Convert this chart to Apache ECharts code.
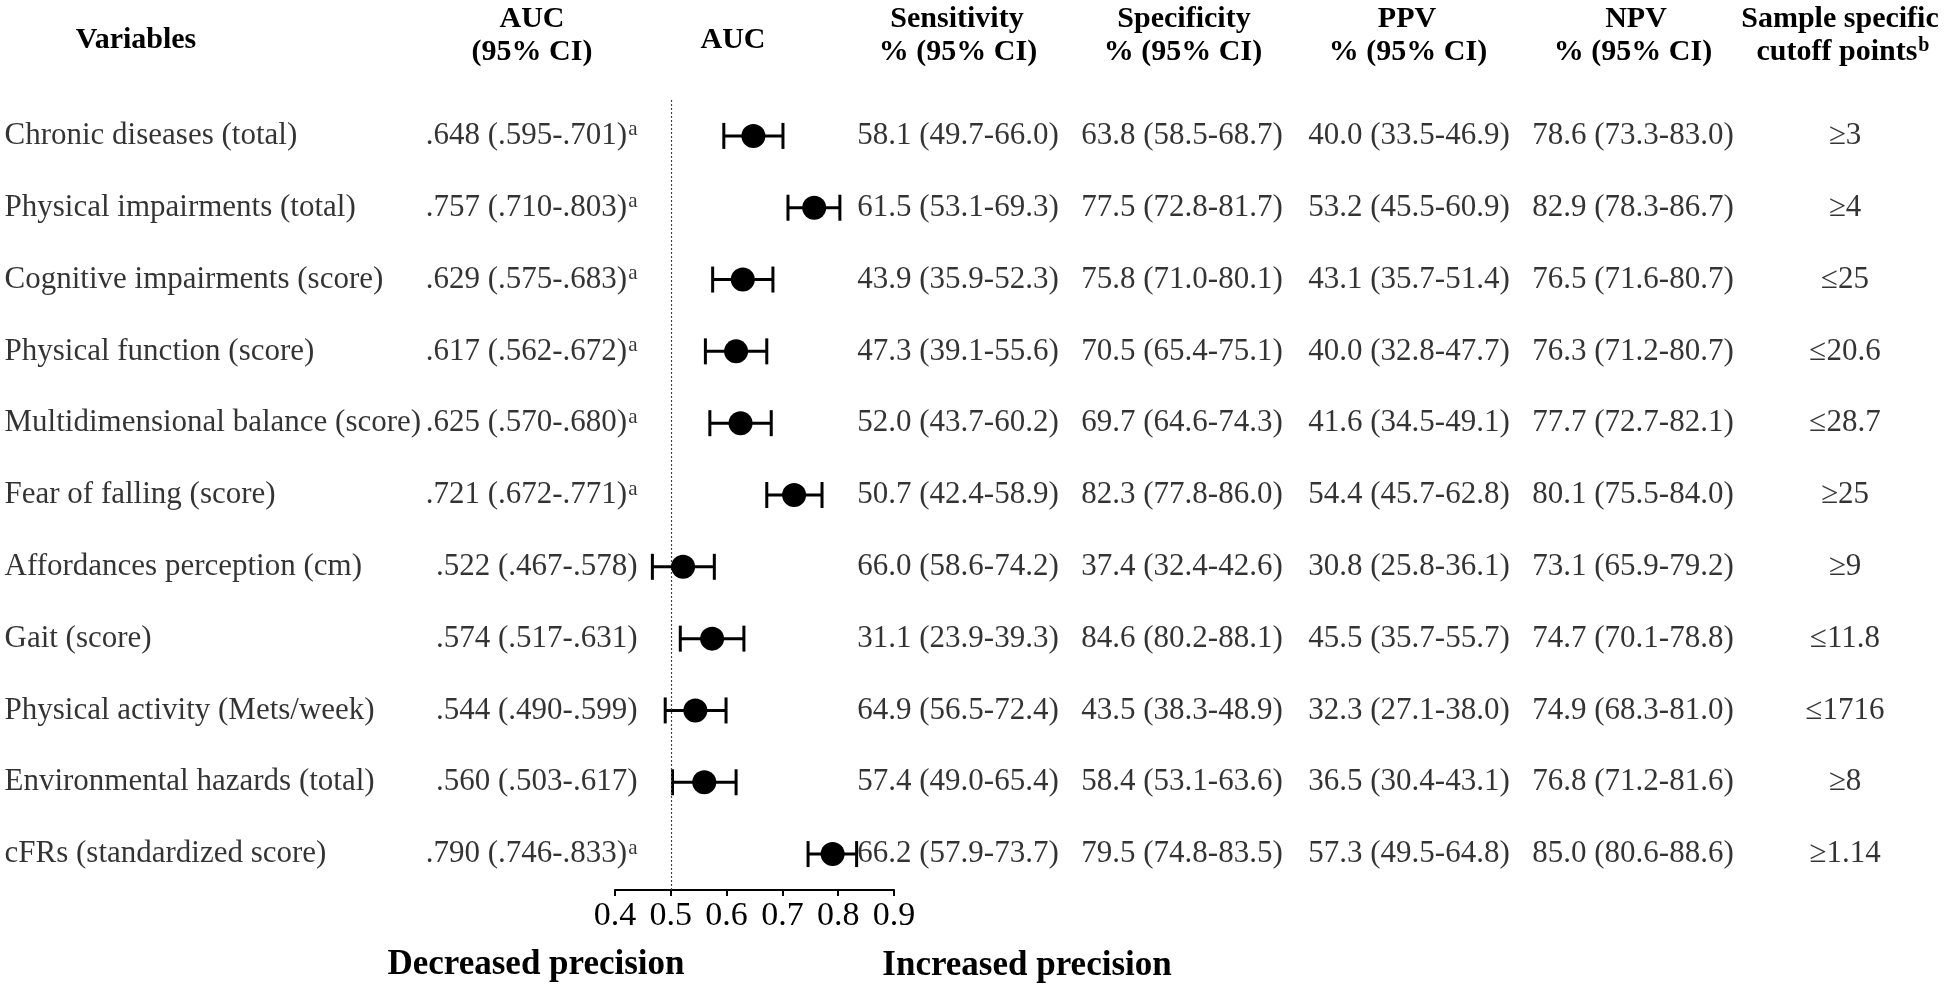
<!DOCTYPE html>
<html>
<head>
<meta charset="utf-8">
<script src="https://cdn.jsdelivr.net/npm/echarts@6/dist/echarts.min.js"></script>
<style>
html,body{margin:0;padding:0;background:#fff;}
#chart{width:1946px;height:987px;}
</style>
</head>
<body>
<div id="chart"></div>
<script>
// ---------- data ----------
const variables = ['Chronic diseases (total)', 'Physical impairments (total)', 'Cognitive impairments (score)', 'Physical function (score)', 'Multidimensional balance (score)', 'Fear of falling (score)', 'Affordances perception (cm)', 'Gait (score)', 'Physical activity (Mets/week)', 'Environmental hazards (total)', 'cFRs (standardized score)'];
const auc = [0.648, 0.757, 0.629, 0.617, 0.625, 0.721, 0.522, 0.574, 0.544, 0.560, 0.790];
const aucLow = [0.595, 0.710, 0.575, 0.562, 0.570, 0.672, 0.467, 0.517, 0.490, 0.503, 0.746];
const aucHigh = [0.701, 0.803, 0.683, 0.672, 0.680, 0.771, 0.578, 0.631, 0.599, 0.617, 0.833];
const aucSig = [true, true, true, true, true, true, false, false, false, false, true];
const sensitivity = ['58.1 (49.7-66.0)', '61.5 (53.1-69.3)', '43.9 (35.9-52.3)', '47.3 (39.1-55.6)', '52.0 (43.7-60.2)', '50.7 (42.4-58.9)', '66.0 (58.6-74.2)', '31.1 (23.9-39.3)', '64.9 (56.5-72.4)', '57.4 (49.0-65.4)', '66.2 (57.9-73.7)'];
const specificity = ['63.8 (58.5-68.7)', '77.5 (72.8-81.7)', '75.8 (71.0-80.1)', '70.5 (65.4-75.1)', '69.7 (64.6-74.3)', '82.3 (77.8-86.0)', '37.4 (32.4-42.6)', '84.6 (80.2-88.1)', '43.5 (38.3-48.9)', '58.4 (53.1-63.6)', '79.5 (74.8-83.5)'];
const ppv = ['40.0 (33.5-46.9)', '53.2 (45.5-60.9)', '43.1 (35.7-51.4)', '40.0 (32.8-47.7)', '41.6 (34.5-49.1)', '54.4 (45.7-62.8)', '30.8 (25.8-36.1)', '45.5 (35.7-55.7)', '32.3 (27.1-38.0)', '36.5 (30.4-43.1)', '57.3 (49.5-64.8)'];
const npv = ['78.6 (73.3-83.0)', '82.9 (78.3-86.7)', '76.5 (71.6-80.7)', '76.3 (71.2-80.7)', '77.7 (72.7-82.1)', '80.1 (75.5-84.0)', '73.1 (65.9-79.2)', '74.7 (70.1-78.8)', '74.9 (68.3-81.0)', '76.8 (71.2-81.6)', '85.0 (80.6-88.6)'];
const cutoff = ['≥3', '≥4', '≤25', '≤20.6', '≤28.7', '≥25', '≥9', '≤11.8', '≤1716', '≥8', '≥1.14'];
const axisTicks = [0.4, 0.5, 0.6, 0.7, 0.8, 0.9];
const referenceAUC = 0.5;

// ---------- layout / style ----------
const FONT = '"Liberation Serif", "Times New Roman", serif';
const BODY = 31;
const HEAD = 30;
const TOP = 100, HEIGHT = 790;

function fmt3(v) { return v.toFixed(3).replace(/^0/, ''); }

const aucText = auc.map((v, i) => fmt3(v) + ' (' + fmt3(aucLow[i]) + '-' + fmt3(aucHigh[i]) + ')' + (aucSig[i] ? '{sup|a}' : ''));

const columns = [
  { left: 4, width: 100, texts: variables, x: 0, pos: 'right' },
  { left: 330, width: 308, texts: aucText, x: 1, pos: 'left' },
  { left: 858, width: 200, texts: sensitivity, x: 0.5, pos: 'inside' },
  { left: 1082, width: 200, texts: specificity, x: 0.5, pos: 'inside' },
  { left: 1309, width: 200, texts: ppv, x: 0.5, pos: 'inside' },
  { left: 1533, width: 200, texts: npv, x: 0.5, pos: 'inside' },
  { left: 1795, width: 100, texts: cutoff, x: 0.5, pos: 'inside' }
];

const grids = [{ left: 615, width: 279, top: TOP, height: HEIGHT }];
const xAxes = [{
  gridIndex: 0, type: 'value', min: 0.4, max: 0.9, interval: 0.1,
  splitLine: { show: false },
  axisLine: { show: true, lineStyle: { color: '#000', width: 2 } },
  axisTick: { show: true, length: 6, lineStyle: { color: '#000', width: 2 } },
  axisLabel: {
    color: '#000', fontSize: 34, fontFamily: FONT, margin: 9,
    formatter: v => axisTicks.some(t => Math.abs(t - v) < 1e-9) ? v.toFixed(1) : ''
  }
}];
const yAxes = [{ gridIndex: 0, type: 'category', data: variables, inverse: true, show: false }];
const series = [];

// error bar whiskers
series.push({
  type: 'custom',
  xAxisIndex: 0, yAxisIndex: 0,
  silent: true,
  data: variables.map((v, i) => [aucLow[i], aucHigh[i], i]),
  encode: { x: [0, 1], y: 2 },
  renderItem: function (params, api) {
    const p1 = api.coord([api.value(0), api.value(2)]);
    const p2 = api.coord([api.value(1), api.value(2)]);
    const h = 13;
    const st = { stroke: '#000', lineWidth: 3 };
    return {
      type: 'group',
      children: [
        { type: 'line', shape: { x1: p1[0], y1: p1[1], x2: p2[0], y2: p2[1] }, style: st },
        { type: 'line', shape: { x1: p1[0], y1: p1[1] - h, x2: p1[0], y2: p1[1] + h }, style: st },
        { type: 'line', shape: { x1: p2[0], y1: p2[1] - h, x2: p2[0], y2: p2[1] + h }, style: st }
      ]
    };
  }
});

// AUC points + reference line
series.push({
  type: 'scatter',
  xAxisIndex: 0, yAxisIndex: 0,
  silent: true,
  symbol: 'circle',
  symbolSize: 24,
  itemStyle: { color: '#000', opacity: 1 },
  data: auc.map((v, i) => [v, i]),
  z: 5,
  markLine: {
    silent: true,
    symbol: ['none', 'none'],
    label: { show: false },
    lineStyle: { color: '#444', type: [2, 2], width: 1.2 },
    data: [{ xAxis: referenceAUC }]
  }
});

// text columns
columns.forEach((c, k) => {
  const gi = k + 1;
  grids.push({ left: c.left, width: c.width, top: TOP, height: HEIGHT });
  xAxes.push({ gridIndex: gi, type: 'value', min: 0, max: 1, show: false });
  yAxes.push({ gridIndex: gi, type: 'category', data: variables, inverse: true, show: false });
  series.push({
    type: 'scatter',
    xAxisIndex: gi, yAxisIndex: gi,
    silent: true,
    symbolSize: 1,
    itemStyle: { color: 'rgba(0,0,0,0)' },
    data: c.texts.map((t, i) => ({ value: [c.x, i], name: t })),
    label: {
      show: true,
      position: c.pos,
      distance: 0,
      color: '#000',
      fontSize: BODY,
      fontFamily: FONT,
      formatter: p => p.name,
      rich: {
        sup: { fontSize: 21, fontFamily: FONT, color: '#000', verticalAlign: 'top', padding: [0, 0, 12, 1] }
      }
    },
    labelLayout: { hideOverlap: false }
  });
});

// headers
function head(text, x, y, size) {
  return {
    type: 'text', x: x, y: y, silent: true,
    style: {
      text: text, fill: '#000', align: 'center', verticalAlign: 'middle',
      fontSize: size || HEAD, fontWeight: 'bold', fontFamily: FONT,
      rich: {
        sup: { fontSize: 20, fontWeight: 'bold', fontFamily: FONT, fill: '#000', verticalAlign: 'top', padding: [0, 0, 12, 1] }
      }
    }
  };
}
const L1 = 19, L2 = 52, LM = 40;
const graphics = [
  head('Variables', 136, LM),
  head('AUC', 532, L1), head('(95% CI)', 532, L2),
  head('AUC', 733, LM),
  head('Sensitivity', 957, L1), head('% (95% CI)', 958, L2),
  head('Specificity', 1184, L1), head('% (95% CI)', 1183, L2),
  head('PPV', 1407, L1), head('% (95% CI)', 1408, L2),
  head('NPV', 1636, L1), head('% (95% CI)', 1633, L2),
  head('Sample specific', 1840, L1), head('cutoff points{sup|b}', 1843, L2),
  head('Decreased precision', 536, 965, 35),
  head('Increased precision', 1027, 966, 35)
];

const chart = echarts.init(document.getElementById('chart'), null, { renderer: 'canvas' });
chart.setOption({
  backgroundColor: '#fff',
  animation: false,
  grid: grids,
  xAxis: xAxes,
  yAxis: yAxes,
  series: series,
  graphic: graphics
});
</script>
</body>
</html>
